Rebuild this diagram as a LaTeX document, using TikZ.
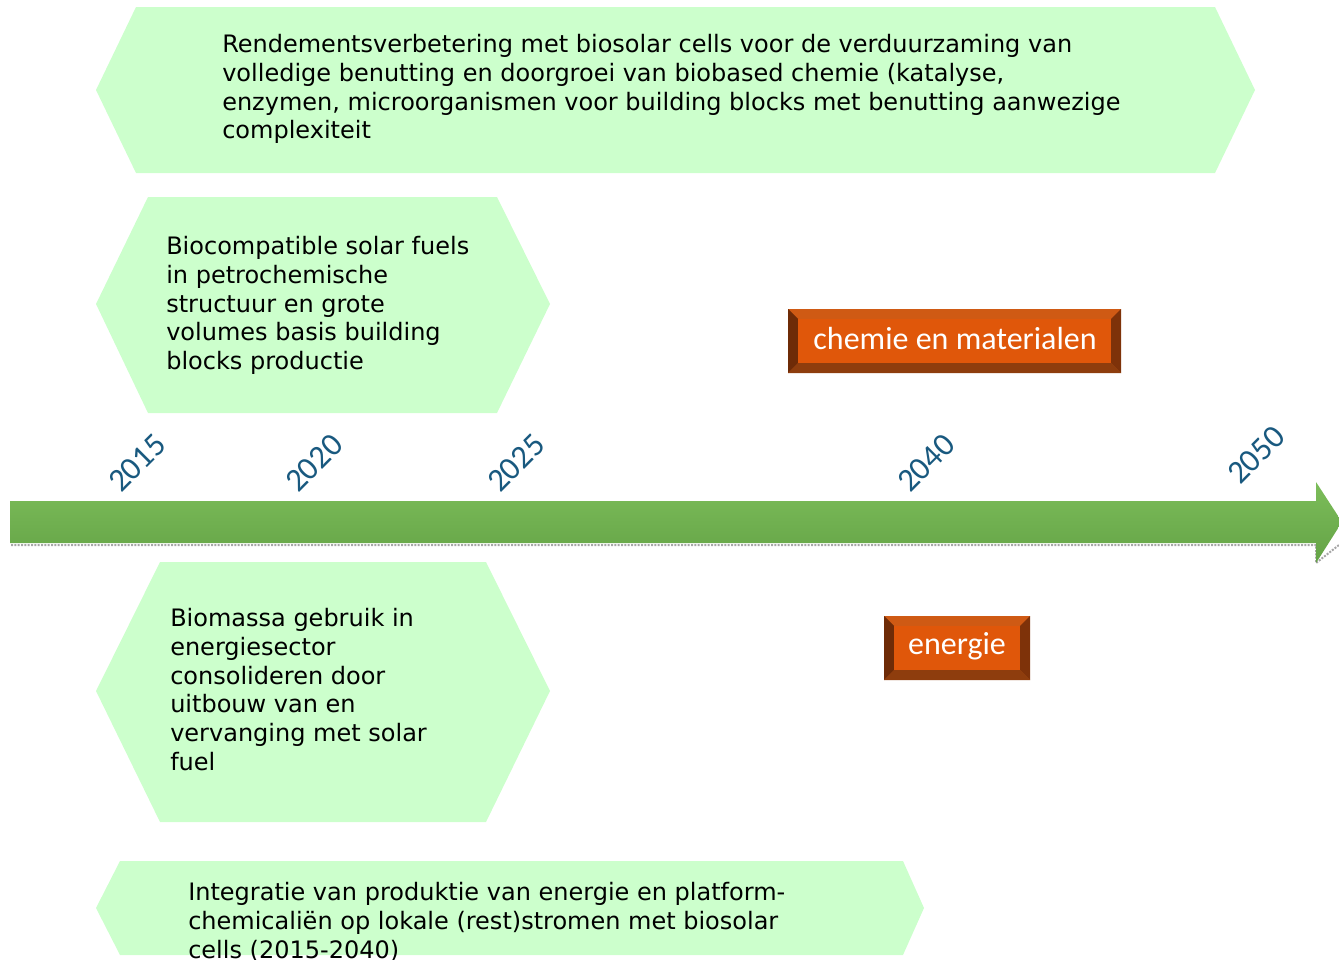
\documentclass[tikz,border=0pt]{standalone}
\usepackage{fontspec}
\setmainfont{DejaVu Sans}
\newfontfamily\yearfont{Carlito}

\definecolor{hexgreen}{HTML}{CCFFCC}
\definecolor{bartop}{HTML}{7CBD5A}
\definecolor{barbot}{HTML}{64A346}
\definecolor{yearblue}{HTML}{19597F}
\definecolor{taborange}{HTML}{E0570A}
\definecolor{tabedge}{HTML}{B5490D}
\definecolor{tabtop}{HTML}{CF5A14}
\definecolor{tableft}{HTML}{6E2B07}
\definecolor{tabright}{HTML}{7E3209}
\definecolor{tabbot}{HTML}{8E3D0D}

\tikzset{
  hexbox/.style={fill=hexgreen},
  hextext/.style={anchor=north west, inner sep=0pt, align=left,
    font=\fontsize{18}{21.6}\selectfont},
  year/.style={rotate=45, text=yearblue, inner sep=0pt,
    font=\yearfont\fontsize{24.5}{24.5}\selectfont},
  tagtext/.style={text=white, inner sep=0pt,
    font=\yearfont\fontsize{24}{24}\selectfont}
}

\begin{document}
\begin{tikzpicture}[x=0.75pt,y=-0.75pt]
\useasboundingbox (0,0) rectangle (1339,960);

% green hexagons
\fill[hexbox] (96,90) -- (136,7) -- (1215,7) -- (1255,90) -- (1215,173) -- (136,173) -- cycle;
\fill[hexbox] (96,304) -- (148,197) -- (497,197) -- (550,304) -- (497,413) -- (148,413) -- cycle;
\fill[hexbox] (96,691) -- (160,562) -- (486,562) -- (550,691) -- (486,822) -- (160,822) -- cycle;
\fill[hexbox] (96,908) -- (120,861) -- (903,861) -- (924,908) -- (903,955) -- (120,955) -- cycle;

\node[hextext] (biosolar) at (222,34) {Rendementsverbetering met biosolar cells voor de verduurzaming van\\
volledige benutting en doorgroei van biobased chemie (katalyse,\\
enzymen, microorganismen voor building blocks met benutting aanwezige\\
complexiteit};
\node[hextext] (solarfuels) at (166,236) {Biocompatible solar fuels\\
in petrochemische\\
structuur en grote\\
volumes basis building\\
blocks productie};
\node[hextext] (biomassa) at (170,608) {Biomassa gebruik in\\
energiesector\\
consolideren door\\
uitbouw van en\\
vervanging met solar\\
fuel};
\node[hextext] (integratie) at (188,882) {Integratie van produktie van energie en platform-\\
chemicaliën op lokale (rest)stromen met biosolar\\
cells (2015-2040)};

% time arrow
\draw[gray!70, densely dotted, line width=1.5pt] (11,545) -- (1316,545) -- (1316,563) -- (1339,545);
\shade[top color=bartop, bottom color=barbot]
  (10,501) -- (1316,501) -- (1316,482) -- (1342,522) -- (1316,563) -- (1316,543) -- (10,543) -- cycle;

\node[year] (y2015) at (137,463) {2015};
\node[year] (y2020) at (314,463) {2020};
\node[year] (y2025) at (516,463) {2025};
\node[year] (y2040) at (926,463) {2040};
\node[year] (y2050) at (1256,455) {2050};

% orange tabs
\fill[tabedge] (788,309) rectangle (1121,373);
\fill[tabtop] (788,309) -- (1121,309) -- (1111,319) -- (798,319) -- cycle;
\fill[tableft] (788,309) -- (798,319) -- (798,363) -- (788,373) -- cycle;
\fill[tabright] (1121,309) -- (1111,319) -- (1111,363) -- (1121,373) -- cycle;
\fill[tabbot] (788,373) -- (798,363) -- (1111,363) -- (1121,373) -- cycle;
\fill[taborange] (798,319) rectangle (1111,363);
\node[tagtext] (chemie) at (955,339) {chemie en materialen};

\fill[tabedge] (884,616) rectangle (1030,680);
\fill[tabtop] (884,616) -- (1030,616) -- (1020,626) -- (894,626) -- cycle;
\fill[tableft] (884,616) -- (894,626) -- (894,670) -- (884,680) -- cycle;
\fill[tabright] (1030,616) -- (1020,626) -- (1020,670) -- (1030,680) -- cycle;
\fill[tabbot] (884,680) -- (894,670) -- (1020,670) -- (1030,680) -- cycle;
\fill[taborange] (894,626) rectangle (1020,670);
\node[tagtext] (energie) at (957,646) {energie};
\end{tikzpicture}
\end{document}
